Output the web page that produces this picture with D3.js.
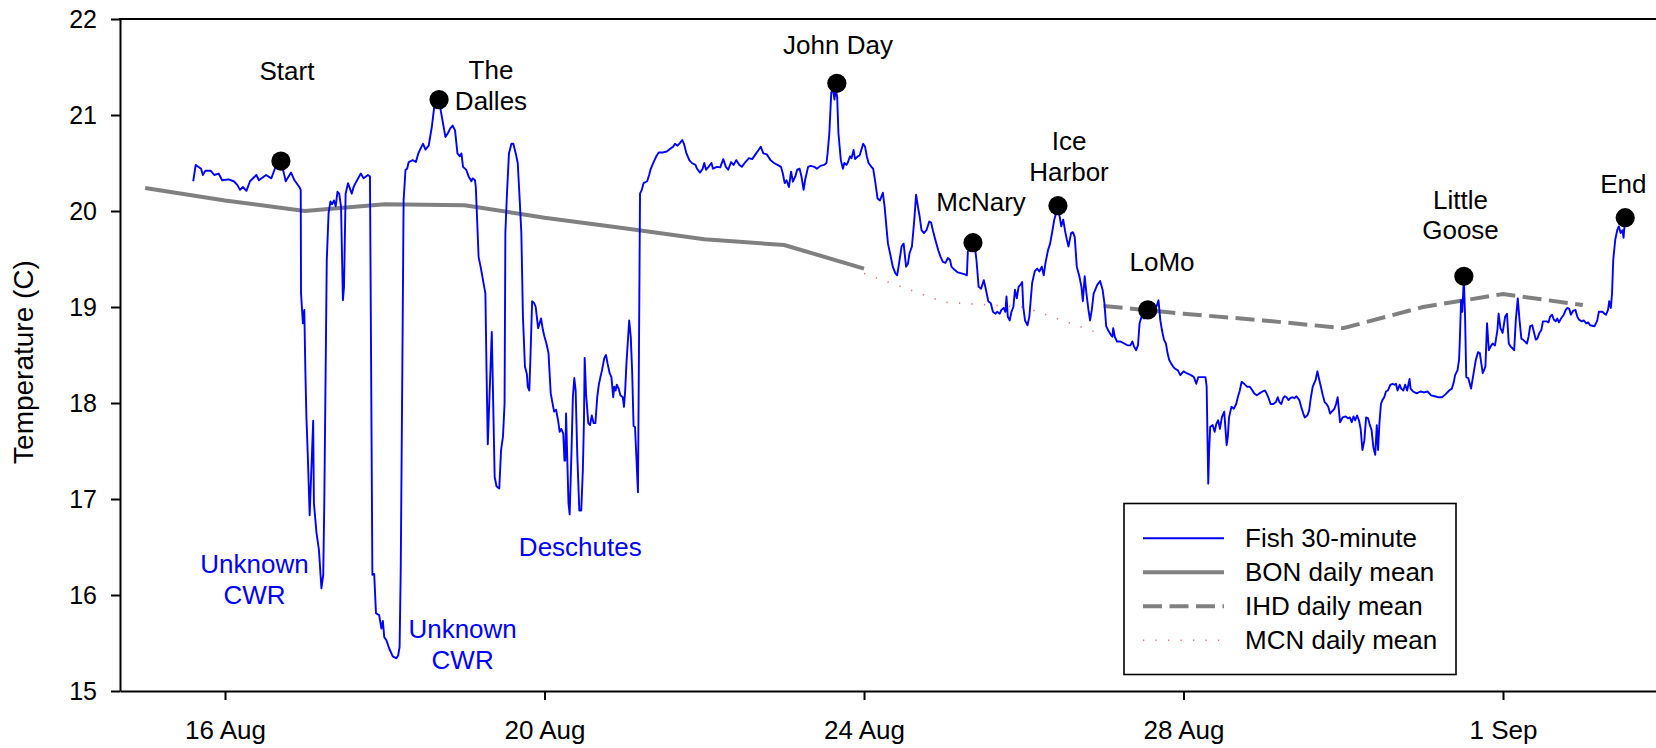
<!DOCTYPE html>
<html><head><meta charset="utf-8">
<script src="https://cdn.jsdelivr.net/npm/d3@7"></script>
<style>
body{margin:0;background:#fff}
svg{display:block}
text{font-family:"Liberation Sans",Arial,Helvetica,sans-serif}
</style>
</head><body>
<svg id="chart" width="1656" height="748"></svg>
<script>
// ---------------- DATA (day of August as decimal; 32 = 1 Sep) ----------------
const fish = [[15.602,20.31],[15.633,20.48],[15.665,20.46],[15.70,20.44],[15.723,20.375],[15.754,20.42],[15.82,20.42],[15.866,20.375],[15.92,20.39],[15.964,20.32],[16.045,20.33],[16.11,20.31],[16.156,20.27],[16.188,20.22],[16.224,20.25],[16.268,20.21],[16.313,20.31],[16.393,20.375],[16.425,20.32],[16.514,20.375],[16.58,20.34],[16.626,20.445],[16.67,20.50],[16.69,20.53],[16.72,20.45],[16.738,20.39],[16.76,20.31],[16.827,20.40],[16.87,20.32],[16.93,20.25],[16.948,20.22],[16.952,19.14],[16.975,18.83],[16.993,18.97],[17.006,18.34],[17.019,17.86],[17.037,17.44],[17.06,16.83],[17.104,17.815],[17.113,16.96],[17.145,16.65],[17.176,16.47],[17.207,16.07],[17.23,16.21],[17.243,16.96],[17.26,18.34],[17.274,19.49],[17.297,19.98],[17.32,20.10],[17.34,20.07],[17.364,20.11],[17.386,20.05],[17.408,20.20],[17.43,20.18],[17.453,20.04],[17.476,19.07],[17.49,19.21],[17.51,20.18],[17.54,20.29],[17.587,20.18],[17.61,20.25],[17.64,20.30],[17.70,20.39],[17.735,20.34],[17.79,20.375],[17.815,20.36],[17.83,18.3],[17.845,16.21],[17.868,16.22],[17.89,15.81],[17.93,15.79],[17.958,15.65],[17.976,15.73],[17.994,15.56],[18.02,15.53],[18.057,15.44],[18.10,15.36],[18.146,15.34],[18.168,15.37],[18.186,15.46],[18.20,16.26],[18.22,18.34],[18.236,20.11],[18.26,20.43],[18.28,20.44],[18.30,20.51],[18.35,20.53],[18.39,20.51],[18.42,20.60],[18.46,20.67],[18.48,20.70],[18.51,20.64],[18.55,20.68],[18.59,20.88],[18.62,21.09],[18.66,21.14],[18.68,21.15],[18.70,21.05],[18.73,20.91],[18.76,20.77],[18.79,20.81],[18.82,20.86],[18.85,20.89],[18.88,20.84],[18.91,20.60],[18.94,20.57],[18.96,20.60],[18.98,20.46],[19.02,20.43],[19.05,20.36],[19.085,20.31],[19.10,20.34],[19.13,20.32],[19.14,20.25],[19.175,19.52],[19.20,19.42],[19.23,19.28],[19.26,19.14],[19.275,18.30],[19.29,17.57],[19.34,18.74],[19.376,17.23],[19.40,17.13],[19.434,17.11],[19.456,17.51],[19.48,17.65],[19.50,17.99],[19.51,19.77],[19.53,20.18],[19.555,20.60],[19.586,20.70],[19.61,20.70],[19.64,20.60],[19.665,20.50],[19.69,20.11],[19.71,19.77],[19.73,18.90],[19.755,18.38],[19.78,18.30],[19.79,18.17],[19.81,18.13],[19.825,18.50],[19.845,19.06],[19.87,19.04],[19.89,19.00],[19.92,18.78],[19.957,18.88],[19.98,18.76],[20.0,18.69],[20.024,18.62],[20.05,18.52],[20.078,18.10],[20.12,17.91],[20.145,17.93],[20.17,17.82],[20.19,17.70],[20.21,17.73],[20.235,17.68],[20.25,17.40],[20.26,17.40],[20.27,17.89],[20.30,16.96],[20.315,16.84],[20.337,17.47],[20.355,18.06],[20.373,18.26],[20.39,18.13],[20.41,17.47],[20.436,16.88],[20.46,16.88],[20.48,17.30],[20.494,17.82],[20.503,18.47],[20.52,18.10],[20.548,17.79],[20.57,17.77],[20.592,17.87],[20.615,17.79],[20.637,17.79],[20.66,18.06],[20.68,18.19],[20.70,18.27],[20.72,18.34],[20.749,18.47],[20.77,18.50],[20.79,18.41],[20.816,18.31],[20.838,18.27],[20.86,18.06],[20.874,18.17],[20.89,18.13],[20.905,18.19],[20.928,18.15],[20.95,18.08],[20.98,18.06],[20.995,17.96],[21.01,18.13],[21.025,18.40],[21.06,18.86],[21.08,18.69],[21.098,18.31],[21.115,17.76],[21.133,17.75],[21.15,17.44],[21.17,17.07],[21.178,17.99],[21.196,20.18],[21.218,20.22],[21.24,20.29],[21.285,20.31],[21.31,20.375],[21.33,20.44],[21.366,20.51],[21.40,20.57],[21.43,20.61],[21.486,20.61],[21.53,20.62],[21.554,20.635],[21.576,20.65],[21.61,20.67],[21.634,20.70],[21.665,20.68],[21.697,20.71],[21.724,20.74],[21.746,20.70],[21.777,20.60],[21.813,20.53],[21.844,20.50],[21.89,20.48],[21.91,20.44],[21.947,20.40],[21.98,20.44],[22.0,20.50],[22.023,20.43],[22.054,20.46],[22.09,20.50],[22.11,20.44],[22.157,20.46],[22.20,20.455],[22.238,20.54],[22.27,20.46],[22.30,20.43],[22.336,20.51],[22.367,20.48],[22.40,20.53],[22.44,20.48],[22.47,20.46],[22.515,20.51],[22.56,20.55],[22.60,20.54],[22.65,20.60],[22.68,20.635],[22.707,20.67],[22.74,20.60],[22.783,20.59],[22.83,20.53],[22.873,20.50],[22.917,20.48],[22.96,20.46],[22.984,20.39],[23.007,20.29],[23.03,20.32],[23.06,20.25],[23.087,20.41],[23.11,20.305],[23.14,20.36],[23.163,20.43],[23.194,20.44],[23.217,20.36],[23.244,20.22],[23.262,20.32],[23.30,20.46],[23.333,20.47],[23.378,20.46],[23.41,20.44],[23.454,20.47],[23.50,20.48],[23.53,20.50],[23.544,20.60],[23.566,20.81],[23.59,21.23],[23.61,21.28],[23.63,21.16],[23.646,21.26],[23.664,21.19],[23.68,20.81],[23.71,20.53],[23.736,20.44],[23.754,20.50],[23.78,20.48],[23.80,20.51],[23.825,20.57],[23.843,20.55],[23.87,20.635],[23.888,20.54],[23.924,20.57],[23.946,20.58],[23.99,20.70],[24.013,20.67],[24.035,20.57],[24.057,20.50],[24.093,20.46],[24.115,20.44],[24.138,20.32],[24.17,20.13],[24.20,20.11],[24.236,20.19],[24.258,20.045],[24.28,19.84],[24.30,19.66],[24.326,19.56],[24.36,19.42],[24.393,19.35],[24.415,19.33],[24.438,19.45],[24.47,19.63],[24.496,19.66],[24.514,19.52],[24.527,19.42],[24.55,19.45],[24.57,19.56],[24.60,19.63],[24.63,19.91],[24.652,20.17],[24.675,20.045],[24.697,19.94],[24.72,19.80],[24.75,19.77],[24.782,19.80],[24.817,19.89],[24.84,19.88],[24.862,19.80],[24.893,19.70],[24.93,19.59],[24.96,19.52],[24.988,19.47],[25.02,19.46],[25.05,19.51],[25.077,19.49],[25.095,19.42],[25.13,19.39],[25.175,19.36],[25.22,19.35],[25.265,19.34],[25.288,19.33],[25.30,19.58],[25.33,19.61],[25.36,19.65],[25.39,19.61],[25.408,19.49],[25.435,19.21],[25.466,19.19],[25.50,19.28],[25.524,19.19],[25.556,19.06],[25.587,19.04],[25.614,18.95],[25.645,18.93],[25.667,18.95],[25.70,18.93],[25.72,18.97],[25.748,18.99],[25.77,18.95],[25.784,19.11],[25.80,18.90],[25.824,18.86],[25.846,18.95],[25.87,19.00],[25.89,19.18],[25.913,19.09],[25.935,19.21],[25.958,19.23],[25.98,19.26],[25.994,19.00],[26.016,18.86],[26.047,18.81],[26.07,18.90],[26.105,19.25],[26.137,19.37],[26.168,19.40],[26.195,19.37],[26.226,19.42],[26.25,19.33],[26.27,19.45],[26.303,19.59],[26.33,19.66],[26.36,19.80],[26.382,19.91],[26.405,19.98],[26.427,20.01],[26.45,19.94],[26.47,19.84],[26.494,19.91],[26.516,19.80],[26.54,19.70],[26.56,19.63],[26.593,19.77],[26.615,19.78],[26.638,19.73],[26.664,19.42],[26.696,19.32],[26.722,19.21],[26.74,19.06],[26.763,19.32],[26.785,19.14],[26.81,18.97],[26.83,18.86],[26.852,18.97],[26.875,19.14],[26.92,19.23],[26.956,19.27],[26.987,19.18],[27.01,19.04],[27.032,18.80],[27.055,18.76],[27.09,18.71],[27.11,18.69],[27.12,18.78],[27.14,18.69],[27.168,18.64],[27.213,18.64],[27.258,18.62],[27.30,18.60],[27.335,18.60],[27.36,18.64],[27.38,18.59],[27.407,18.55],[27.43,18.60],[27.45,18.83],[27.475,18.90],[27.507,18.88],[27.54,18.93],[27.57,18.96],[27.60,18.97],[27.63,19.00],[27.66,19.0],[27.687,19.07],[27.71,18.86],[27.73,18.76],[27.755,18.66],[27.78,18.62],[27.80,18.52],[27.82,18.45],[27.846,18.41],[27.87,18.38],[27.89,18.36],[27.93,18.34],[27.96,18.29],[28.0,18.33],[28.04,18.31],[28.094,18.29],[28.13,18.27],[28.16,18.20],[28.185,18.27],[28.23,18.27],[28.275,18.27],[28.29,18.17],[28.30,17.65],[28.31,17.16],[28.32,17.48],[28.334,17.75],[28.365,17.77],[28.39,17.70],[28.41,17.78],[28.434,17.82],[28.456,17.73],[28.48,17.85],[28.51,17.91],[28.54,17.56],[28.555,17.65],[28.57,17.85],[28.60,17.96],[28.63,17.94],[28.66,17.99],[28.68,18.06],[28.705,18.13],[28.727,18.22],[28.76,18.20],[28.795,18.17],[28.83,18.17],[28.863,18.13],[28.885,18.10],[28.917,18.08],[28.95,18.10],[28.99,18.12],[29.02,18.13],[29.04,18.10],[29.066,18.05],[29.09,17.99],[29.125,17.99],[29.157,18.01],[29.18,18.06],[29.20,18.01],[29.225,17.99],[29.247,18.05],[29.27,18.07],[29.29,18.06],[29.315,18.03],[29.337,18.05],[29.36,18.06],[29.387,18.05],[29.414,18.07],[29.45,18.03],[29.473,17.96],[29.50,17.89],[29.518,17.85],[29.55,17.87],[29.573,17.92],[29.595,18.06],[29.618,18.17],[29.654,18.24],[29.676,18.33],[29.70,18.24],[29.72,18.17],[29.744,18.08],[29.767,18.01],[29.79,17.99],[29.812,17.96],[29.835,17.89],[29.857,17.91],[29.89,17.94],[29.91,17.99],[29.93,18.06],[29.947,17.91],[29.96,17.80],[29.993,17.85],[30.03,17.86],[30.06,17.84],[30.083,17.85],[30.106,17.80],[30.128,17.86],[30.15,17.82],[30.173,17.87],[30.196,17.82],[30.218,17.73],[30.24,17.51],[30.264,17.61],[30.286,17.85],[30.31,17.84],[30.33,17.78],[30.354,17.72],[30.377,17.54],[30.40,17.46],[30.42,17.77],[30.436,17.51],[30.453,17.79],[30.472,17.99],[30.49,18.03],[30.513,18.06],[30.535,18.12],[30.558,18.13],[30.59,18.19],[30.617,18.20],[30.64,18.19],[30.66,18.20],[30.68,18.13],[30.707,18.19],[30.725,18.15],[30.752,18.13],[30.775,18.19],[30.80,18.13],[30.83,18.25],[30.843,18.15],[30.874,18.12],[30.92,18.10],[30.965,18.12],[31.01,18.11],[31.055,18.12],[31.10,18.08],[31.145,18.07],[31.19,18.06],[31.236,18.06],[31.28,18.09],[31.326,18.13],[31.36,18.15],[31.385,18.22],[31.40,18.29],[31.43,18.34],[31.45,18.45],[31.46,18.66],[31.475,19.07],[31.49,18.95],[31.51,19.30],[31.525,18.90],[31.54,18.27],[31.565,18.26],[31.60,18.15],[31.63,18.30],[31.66,18.45],[31.688,18.53],[31.71,18.52],[31.746,18.31],[31.78,18.38],[31.80,18.83],[31.823,18.55],[31.846,18.59],[31.87,18.62],[31.90,18.60],[31.93,18.76],[31.945,18.93],[31.968,18.78],[31.995,18.73],[32.027,18.90],[32.05,18.93],[32.072,18.62],[32.094,18.59],[32.117,18.57],[32.14,18.55],[32.16,18.86],[32.185,19.09],[32.207,18.86],[32.23,18.67],[32.25,18.66],[32.275,18.64],[32.30,18.62],[32.32,18.69],[32.34,18.80],[32.366,18.81],[32.39,18.73],[32.41,18.66],[32.43,18.67],[32.456,18.73],[32.48,18.76],[32.50,18.85],[32.546,18.85],[32.57,18.84],[32.59,18.90],[32.614,18.92],[32.636,18.87],[32.66,18.85],[32.68,18.88],[32.70,18.84],[32.727,18.88],[32.76,18.92],[32.786,18.97],[32.804,18.99],[32.83,18.98],[32.85,18.92],[32.876,18.96],[32.907,18.97],[32.93,18.90],[32.95,18.87],[32.985,18.85],[33.01,18.86],[33.043,18.83],[33.066,18.84],[33.09,18.81],[33.147,18.80],[33.18,18.86],[33.20,18.95],[33.247,18.95],[33.27,18.93],[33.29,18.92],[33.315,18.97],[33.33,19.06],[33.35,18.99],[33.365,19.14],[33.38,19.49],[33.405,19.70],[33.43,19.80],[33.45,19.84],[33.473,19.77],[33.495,19.80],[33.509,19.72],[33.53,19.93]];

const bonDays  = [15, 16, 17, 18, 19, 20, 21, 22, 23, 24];
const bonTemps = [20.24, 20.11, 20.0, 20.07, 20.06, 19.93, 19.82, 19.705, 19.646, 19.40];

const ihdDays  = [27, 28, 29, 30, 31, 32, 33];
const ihdTemps = [19.01, 18.93, 18.86, 18.78, 19.0, 19.135, 19.02];

const mcnDays  = [24, 25, 26, 27];
const mcnTemps = [19.35, 19.05, 19.0, 18.71];

const siteNames = [["Start"], ["The", "Dalles"], ["John Day"], ["McNary"], ["Ice", "Harbor"], ["LoMo"], ["Little", "Goose"], ["End"]];
const siteDays  = [16.70, 18.68, 23.66, 25.364, 26.428, 27.553, 31.51, 33.53];
const siteTemps = [20.52, 21.16, 21.33, 19.67, 20.055, 18.97, 19.32, 19.93];

const cwrNames = [["Unknown", "CWR"], ["Unknown", "CWR"], ["Deschutes"]];

const xTickDays = [16, 20, 24, 28, 32];
const yTicks = [15, 16, 17, 18, 19, 20, 21, 22];

const seriesNames = ["Fish 30-minute", "BON daily mean", "IHD daily mean", "MCN daily mean"];

// ---------------- LAYOUT ----------------
const toDate = d => new Date(Date.UTC(2019, 7, 1) + (d - 1) * 864e5);
const pxPerDay = 79.875;
const x0 = 120, dStart = 14.6854, dEnd = 34;
const x = d3.scaleUtc().domain([toDate(dStart), toDate(dEnd)])
  .range([x0, x0 + (dEnd - dStart) * pxPerDay]);
const y = d3.scaleLinear().domain([15, 22]).range([691, 19]);

// label anchors (day, temp) for each text block
const siteLabelPos = [[16.776, 21.365], [19.33, 21.375], [23.675, 21.635], [25.465, 20.003],
                      [26.567, 20.635], [27.731, 19.378], [31.468, 20.021], [33.507, 20.19]];
const cwrLabelPos = [[16.369, 16.226], [18.975, 15.549], [20.448, 16.406]];

const svg = d3.select("#chart");
const FS = 26;

// axes
const xAxis = d3.axisBottom(x).tickValues(xTickDays.map(toDate))
  .tickFormat(d3.utcFormat("%-d %b")).tickSize(9).tickSizeOuter(0).tickPadding(20.5);
const gx = svg.append("g").attr("transform", `translate(0,${y(15)})`).call(xAxis);
const yAxis = d3.axisLeft(y).tickValues(yTicks).tickFormat(d3.format("d"))
  .tickSize(9).tickSizeOuter(0).tickPadding(14);
const gy = svg.append("g").attr("transform", `translate(${x0},0)`).call(yAxis);
[gx, gy].forEach(g => {
  g.select(".domain").attr("stroke", "#000").attr("stroke-width", 2);
  g.selectAll(".tick line").attr("stroke", "#000").attr("stroke-width", 2);
  g.selectAll(".tick text").attr("fill", "#000")
    .style("font-family", '"Liberation Sans",Arial,sans-serif');
});
gx.selectAll(".tick text").style("font-size", FS + "px");
gy.selectAll(".tick text").style("font-size", "25px");

// top frame line
svg.append("line").attr("x1", x.range()[0] - 1).attr("x2", x.range()[1])
  .attr("y1", y(22)).attr("y2", y(22)).attr("stroke", "#000").attr("stroke-width", 2);

// y label
svg.append("text").attr("transform", "translate(33,362) rotate(-90)")
  .attr("text-anchor", "middle").style("font-size", "28px").attr("fill", "#000")
  .text("Temperature (C)");

const line = d3.line().x(d => x(toDate(d[0]))).y(d => y(d[1]));
const zip = (a, b) => a.map((v, i) => [v, b[i]]);

const styles = {
  bon: {stroke: "#808080", width: 4, dash: null},
  ihd: {stroke: "#808080", width: 4, dash: "19,7.5"},
  mcn: {stroke: "#f07070", width: 1.6, dash: "1.3,11.2"},
  fish: {stroke: "#0000ff", width: 1.9, dash: null}
};
function drawSeries(data, st) {
  svg.append("path").datum(data).attr("d", line).attr("fill", "none")
    .attr("stroke", st.stroke).attr("stroke-width", st.width)
    .attr("stroke-dasharray", st.dash).attr("stroke-linejoin", "round");
}
drawSeries(zip(bonDays, bonTemps), styles.bon);
drawSeries(zip(ihdDays, ihdTemps), styles.ihd);
drawSeries(zip(mcnDays, mcnTemps), styles.mcn);
drawSeries(fish, styles.fish);

// site dots
svg.append("g").selectAll("circle").data(siteDays).join("circle")
  .attr("cx", d => x(toDate(d))).attr("cy", (d, i) => y(siteTemps[i]))
  .attr("r", 9.6).attr("fill", "#000");

function drawLabels(names, pos, color) {
  names.forEach((lines, i) => {
    const t = svg.append("text").attr("text-anchor", "middle")
      .attr("x", x(toDate(pos[i][0]))).attr("y", y(pos[i][1]))
      .style("font-size", FS + "px").attr("fill", color);
    lines.forEach((s, j) => {
      t.append("tspan").attr("x", x(toDate(pos[i][0])))
        .attr("dy", j === 0 ? 0 : 30.5).text(s);
    });
  });
}
drawLabels(siteNames, siteLabelPos, "#000");
drawLabels(cwrNames, cwrLabelPos, "#0000ff");

// legend
const lg = svg.append("g");
lg.append("rect").attr("x", 1124).attr("y", 503.5).attr("width", 332).attr("height", 171)
  .attr("fill", "#fff").attr("stroke", "#000").attr("stroke-width", 1.6);
const legStyles = [styles.fish, styles.bon, styles.ihd, styles.mcn];
seriesNames.forEach((name, i) => {
  const yy = 538.3 + i * 34;
  lg.append("line").attr("x1", 1143).attr("x2", 1224).attr("y1", yy).attr("y2", yy)
    .attr("stroke", legStyles[i].stroke).attr("stroke-width", i === 0 ? 2 : legStyles[i].width)
    .attr("stroke-dasharray", legStyles[i].dash);
  lg.append("text").attr("x", 1245).attr("y", yy + 8.7).style("font-size", FS + "px")
    .attr("fill", "#000").text(name);
});
</script>
</body></html>
